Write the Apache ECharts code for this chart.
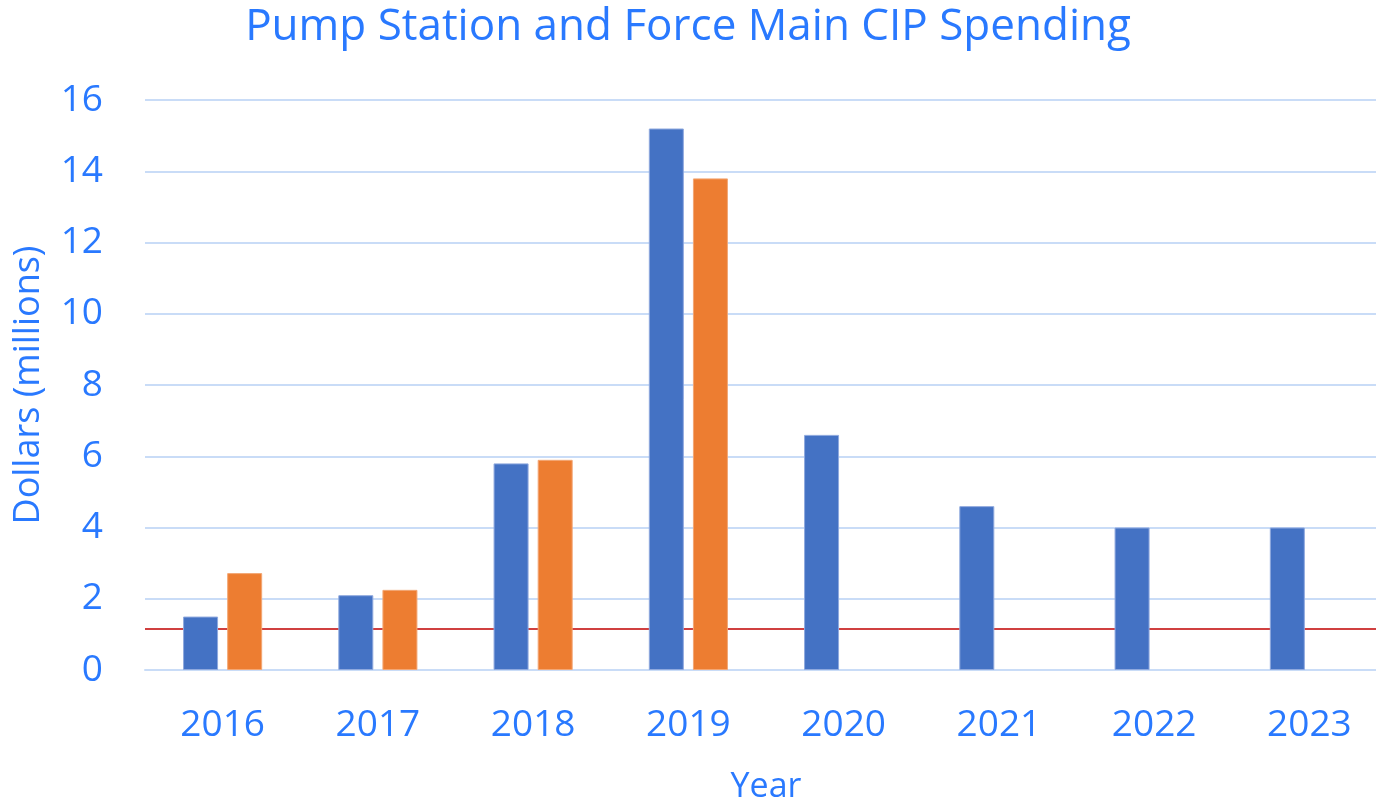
<!DOCTYPE html>
<html>
<head>
<meta charset="utf-8">
<script src="https://cdn.jsdelivr.net/npm/echarts@6/dist/echarts.min.js"></script>
<style>html,body{margin:0;padding:0;background:#fff;}#c{width:1376px;height:801px;}</style>
</head>
<body>
<div id="c"></div>
<script>
const years = ['2016','2017','2018','2019','2020','2021','2022','2023'];
const seriesA = [1.5, 2.1, 5.8, 15.2, 6.6, 4.6, 4.0, 4.0];
const seriesB = [2.72, 2.25, 5.9, 13.8, null, null, null, null];
const refLineValue = 1.15;
const yTicks = {min: 0, max: 16, interval: 2};

const blue = '#2979FF';
const font = 'Open Sans';
const chart = echarts.init(document.getElementById('c'));
chart.setOption({
  animation: false,
  textStyle: {fontFamily: font},
  title: {
    text: 'Pump Station and Force Main CIP Spending',
    left: 'center', top: 0,
    textStyle: {color: blue, fontSize: 44, fontWeight: 'normal', fontFamily: font}
  },
  grid: {left: 145, top: 100, width: 1242, height: 570, outerBoundsMode: 'none', containLabel: false},
  xAxis: {
    type: 'category', data: years,
    name: 'Year', nameLocation: 'middle', nameGap: 100,
    nameTextStyle: {color: blue, fontSize: 34, fontFamily: font},
    axisLine: {lineStyle: {color: '#c9dcf7', width: 2}},
    axisTick: {show: false},
    axisLabel: {color: blue, fontSize: 37, margin: 37, fontFamily: font}
  },
  yAxis: {
    type: 'value', min: yTicks.min, max: yTicks.max, interval: yTicks.interval,
    name: 'Dollars (millions)', nameLocation: 'middle', nameGap: 98, nameRotate: 90,
    nameTextStyle: {color: blue, fontSize: 36, fontFamily: font},
    axisLine: {show: false}, axisTick: {show: false},
    axisLabel: {color: blue, fontSize: 37, margin: 42, fontFamily: font},
    splitLine: {lineStyle: {color: '#c9dcf7', width: 2}}
  },
  series: [
    {type: 'bar', data: seriesA, barWidth: 35, barGap: '26%', z: 3,
     itemStyle: {color: '#4472C4', borderColor: '#8fa9de', borderWidth: 1}},
    {type: 'bar', data: seriesB, barWidth: 35, barGap: '26%', z: 3,
     itemStyle: {color: '#ED7D31', borderColor: '#f3a775', borderWidth: 1}},
    {type: 'line', data: [], z: 1, silent: true,
     markLine: {symbol: 'none', silent: true, z: 1, label: {show: false},
       lineStyle: {color: '#c00000', width: 1.5, type: 'solid'},
       data: [{yAxis: refLineValue}]}}
  ]
});
</script>
</body>
</html>
